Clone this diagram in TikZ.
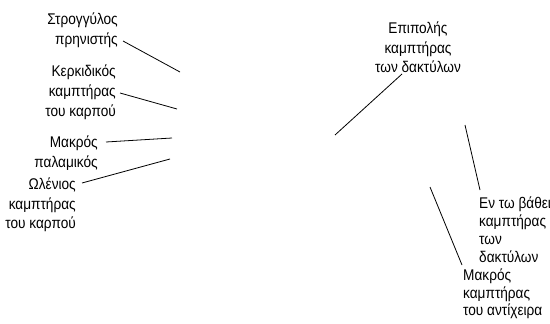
\documentclass[tikz,border=0pt]{standalone}
\usepackage{fontspec}
\setmainfont[FakeStretch=0.88]{Liberation Sans}
\begin{document}
\begin{tikzpicture}[x=1pt,y=-1pt,
  lbl/.style={inner sep=0pt, font=\fontsize{15.5}{20}\selectfont},
  lblr/.style={lbl, align=right, anchor=east},
  lbll/.style={lbl, align=left, anchor=west},
  lblc/.style={lbl, align=center, anchor=center},
  leader/.style={line width=0.8pt, black}]
\useasboundingbox (0,0) rectangle (550,324);

% labels on the left
\node[lblr] (strog) at (118,30.5) {Στρογγύλος\\πρηνιστής};
\node[lblr] (kerk)  at (116,92) {Κερκιδικός\\καμπτήρας\\του καρπού};
\node[lblr] (palam) at (98,153) {Μακρός\\παλαμικός};
\node[lblr, font=\fontsize{15.5}{19.5}\selectfont] (olen) at (76,205) {Ωλένιος\\καμπτήρας\\του καρπού};

% labels on the right
\node[lblc, font=\fontsize{15.5}{19.5}\selectfont] (epip) at (418,47.5) {Επιπολής\\καμπτήρας\\των δακτύλων};
\node[lbll, font=\fontsize{15.5}{18}\selectfont] (vath) at (479,230) {Εν τω βάθει\\καμπτήρας\\των\\δακτύλων};
\node[lbll, font=\fontsize{15.5}{17.5}\selectfont] (antix) at (463,294) {Μακρός\\καμπτήρας\\του αντίχειρα};

% free ends of the leader lines
\coordinate (strogE) at (180,72);
\coordinate (kerkE)  at (177,109);
\coordinate (palamE) at (172,138);
\coordinate (olenE)  at (170,159);
\coordinate (epipE)  at (335,135);
\coordinate (vathE)  at (465,125);
\coordinate (antixE) at (430,187);

% leader lines
\draw[leader] (123,41) -- (strogE);
\draw[leader] (120,93) -- (kerkE);
\draw[leader] (106,142) -- (palamE);
\draw[leader] (82,183) -- (olenE);
\draw[leader] (402,74) -- (epipE);
\draw[leader] (480,190) -- (vathE);
\draw[leader] (462,265) -- (antixE);
\end{tikzpicture}
\end{document}
